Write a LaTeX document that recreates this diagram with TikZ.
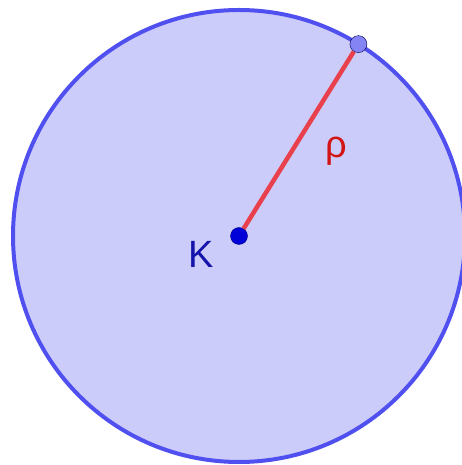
\documentclass[tikz,border=0pt]{standalone}
\usepackage{fontspec}
\setmainfont{Liberation Sans}
\usetikzlibrary{calc}
\definecolor{discfill}{RGB}{204,204,250}
\definecolor{discedge}{RGB}{80,80,240}
\definecolor{radred}{RGB}{232,64,76}
\definecolor{lblred}{RGB}{210,20,20}
\definecolor{lblblue}{RGB}{20,20,170}

\begin{document}
\begin{tikzpicture}[x=1pt, y=1pt,
    disc/.style={draw=discedge, fill=discfill, line width=4pt},
    cpt/.style={circle, draw=blue!50!black, fill=blue!85!black, inner sep=0pt, minimum size=17pt},
    rpt/.style={circle, draw=blue!30!black, fill=discedge!70, inner sep=0pt, minimum size=17pt},
    rad/.style={draw=radred, line width=4.5pt},
    lbl/.style={font=\fontsize{38}{38}\selectfont}]
  \useasboundingbox (0,0) rectangle (462,465);
  \fill[white] (0,0) rectangle (462,465);
  \coordinate (c) at (239,229);
  \draw[disc] (c) circle (226);
  \node[cpt] (K) at (c) {};
  \node[rpt] (P) at ($(c)+(58.1:226)$) {};
  \draw[rad] (K) -- (P);
  \node[lbl, text=lblblue] (Klbl) at (201,211) {K};
  \node[lbl, text=lblred] (rholbl) at (336,314) {ρ};
\end{tikzpicture}
\end{document}
